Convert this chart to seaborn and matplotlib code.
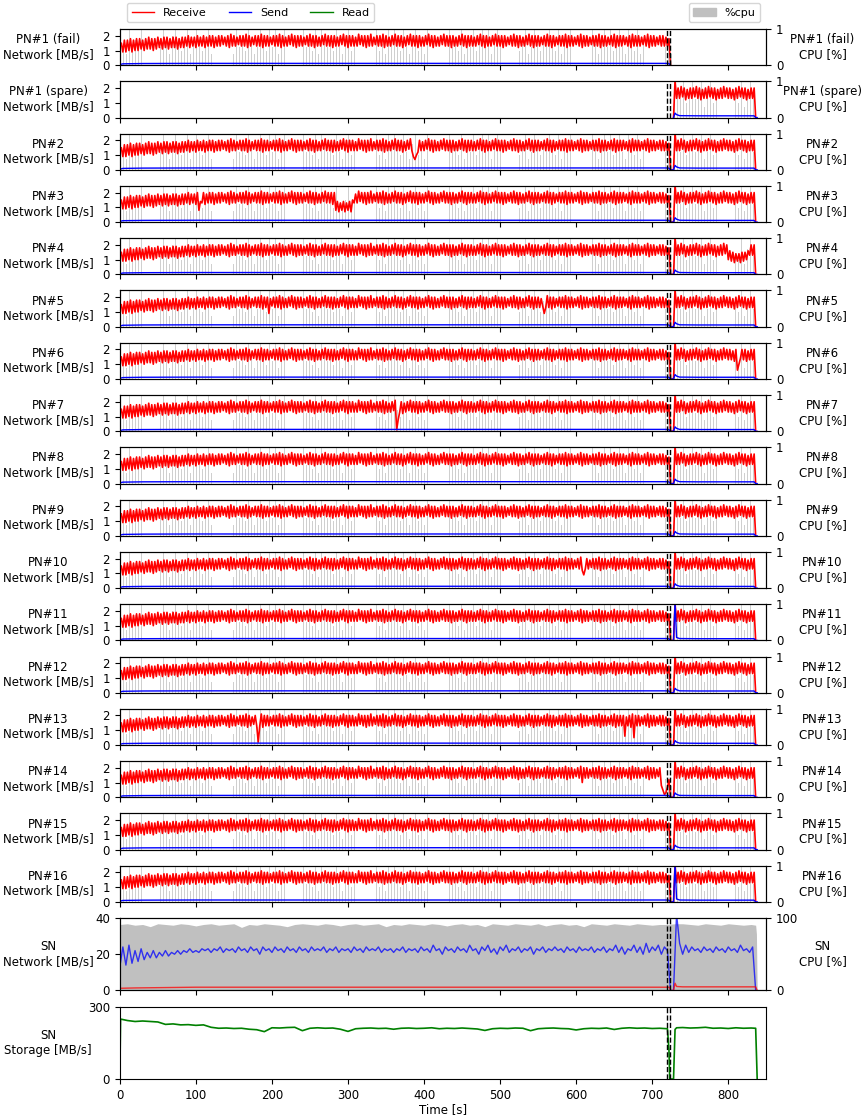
import numpy as np
import seaborn as sns
import matplotlib.pyplot as plt
from matplotlib.lines import Line2D
from matplotlib.patches import Patch

panels = ["PN#1 (fail)", "PN#1 (spare)"] + ["PN#%d" % i for i in range(2, 17)]
fail_lines = [720, 723]

# PN receive rate in tenths of MB/s: troughs at t = 0, 4, 8 ... and peaks at t = 2, 6, 10 ...
rx_trough = [
    12, 9, 9, 10, 9, 10, 10, 11, 10, 11,
    11, 10, 11, 12, 11, 12, 11, 12, 12, 11,
    12, 12, 13, 12, 13, 12, 13, 13, 12, 13,
    13, 12, 13, 13, 14, 13, 12, 13, 13, 14,
    13, 13, 12, 13, 14, 13, 13, 12, 13, 13,
    14, 13, 13, 12, 13, 13, 14, 13, 12, 13,
    13, 14, 13, 13, 12, 13, 13, 14, 13, 13,
    12, 13, 13, 14, 13, 12, 13, 13, 13, 14,
    13, 12, 13, 13, 14, 13, 13, 12, 13, 13,
    14, 13, 13, 12, 13, 14, 13, 13, 12, 13,
    13, 14, 13, 12, 13, 13, 14, 13, 13, 12,
    13, 13, 14, 13, 12, 13, 13, 13, 14, 13,
    12, 13, 13, 14, 13, 13, 12, 13, 14, 13,
    13, 12, 13, 13, 14, 13, 12, 13, 13, 14,
    13, 13, 12, 13, 14, 13, 13, 12, 13, 13,
    14, 13, 12, 13, 13, 14, 13, 13, 12, 13,
    13, 14, 13, 12, 13, 13, 14, 13, 12, 13,
    13, 13, 14, 13, 12, 13, 13, 14, 13, 13,
    13, 0, 0, 13, 13, 14, 12, 13, 13, 14,
    13, 12, 13, 13, 14, 13, 12, 13, 13, 14,
    13, 13, 12, 13, 14, 13, 12, 13, 13, 0,
]
rx_peak = [
    15, 17, 17, 18, 17, 18, 18, 17, 18, 19,
    18, 18, 19, 18, 19, 19, 18, 19, 19, 18,
    19, 19, 20, 19, 19, 20, 19, 20, 19, 20,
    20, 19, 20, 20, 19, 20, 21, 20, 19, 20,
    20, 21, 20, 19, 20, 20, 21, 20, 20, 19,
    20, 20, 21, 20, 19, 20, 21, 20, 20, 20,
    19, 20, 21, 20, 20, 19, 20, 21, 20, 20,
    20, 19, 20, 21, 20, 20, 20, 19, 21, 20,
    20, 20, 21, 19, 20, 20, 21, 20, 19, 20,
    21, 20, 20, 19, 20, 21, 20, 20, 20, 19,
    20, 21, 20, 20, 19, 20, 21, 20, 20, 20,
    19, 20, 21, 20, 20, 20, 19, 20, 21, 20,
    20, 19, 20, 21, 20, 20, 20, 19, 20, 21,
    20, 20, 19, 20, 21, 20, 20, 20, 19, 20,
    21, 20, 20, 19, 20, 20, 21, 20, 20, 19,
    20, 21, 20, 20, 19, 20, 20, 21, 20, 20,
    19, 20, 21, 20, 20, 20, 19, 20, 21, 20,
    20, 19, 20, 21, 20, 20, 19, 20, 20, 19,
    18, 0, 25, 20, 21, 20, 19, 20, 20, 21,
    20, 19, 20, 21, 20, 20, 19, 20, 21, 20,
    20, 19, 20, 21, 20, 20, 19, 20, 20,
]

# dips seen on single nodes: (time [s], tenths of MB/s)
rx_dips = {
    "PN#2": [(386, 9), (388, 7), (390, 10)],
    "PN#3": [(104, 8), (106, 14), (284, 8), (286, 14), (288, 7), (290, 13), (292, 8),
             (294, 14), (296, 7), (298, 13), (300, 8), (302, 14), (304, 7), (306, 15)],
    "PN#4": [(800, 10), (802, 16), (804, 9), (806, 15), (808, 8), (810, 14), (812, 9),
             (814, 14), (816, 8), (818, 15), (820, 9), (822, 15), (824, 10), (826, 16)],
    "PN#5": [(196, 9), (558, 9)],
    "PN#6": [(812, 6), (814, 10)],
    "PN#7": [(364, 1), (366, 8)],
    "PN#10": [(610, 9)],
    "PN#13": [(182, 2), (664, 6), (676, 5)],
    "PN#14": [(608, 10), (712, 8), (714, 5), (716, 2), (718, 3), (720, 7), (722, 12)],
}

send_t = [0, 4, 30, 100, 300, 500, 718, 722, 724, 728, 730, 732, 736, 760, 834, 836, 838]
send_v = [0.05, 0.1, 0.12, 0.13, 0.13, 0.13, 0.13, 0.12, 0.0, 0.0, 0.3, 0.2, 0.13, 0.12,
          0.12, 0.0, 0.0]
send_spike = {"PN#11": 2.6, "PN#16": 2.6}

# PN cpu in tenths, one reading every 4 s starting at t = 1
pn_cpu = [
    10, 6, 3, 10, 5, 7, 4, 10, 6, 3,
    7, 10, 4, 5, 10, 6, 3, 8, 10, 5,
    4, 6, 10, 3, 7, 10, 5, 4, 6, 10,
    3, 10, 7, 5, 4, 10, 6, 3, 10, 5,
    6, 4, 10, 7, 3, 5, 10, 6, 4, 10,
    5, 10, 3, 6, 10, 4, 7, 10, 5, 3,
    10, 5, 6, 4, 10, 3, 10, 6, 5, 7,
    4, 10, 5, 3, 6, 10, 4, 7, 10, 5,
    6, 3, 10, 5, 10, 4, 6, 3, 10, 7,
    10, 6, 4, 10, 5, 3, 7, 10, 4, 6,
    3, 10, 6, 5, 4, 10, 3, 6, 10, 5,
    7, 4, 10, 3, 6, 5, 10, 4, 7, 10,
    5, 10, 3, 7, 10, 6, 4, 10, 5, 3,
    10, 4, 6, 10, 3, 5, 10, 6, 4, 7,
    6, 10, 5, 4, 10, 3, 7, 5, 10, 4,
    3, 6, 10, 5, 4, 10, 6, 3, 7, 10,
    5, 10, 4, 6, 10, 5, 3, 10, 6, 4,
    10, 3, 7, 10, 5, 4, 10, 6, 3, 5,
    4, 3, 10, 6, 5, 10, 4, 7, 10, 5,
    6, 10, 3, 5, 10, 4, 6, 10, 5, 3,
    10, 5, 6, 4, 10, 3, 7, 10, 5, 0,
]

# SN send in MB/s, one reading every 4 s
sn_send = [
    13, 24, 14, 25, 15, 22, 16, 23, 17, 21,
    18, 22, 18, 21, 19, 22, 19, 21, 20, 22,
    20, 22, 21, 23, 21, 22, 21, 23, 22, 23,
    21, 23, 22, 24, 21, 23, 22, 23, 21, 24,
    22, 23, 21, 24, 22, 23, 20, 24, 22, 23,
    21, 24, 22, 23, 21, 24, 22, 23, 21, 24,
    22, 23, 21, 24, 22, 23, 22, 24, 21, 23,
    22, 24, 21, 23, 22, 23, 21, 24, 22, 23,
    21, 24, 22, 23, 22, 24, 21, 23, 22, 23,
    21, 23, 22, 24, 21, 23, 22, 23, 21, 24,
    22, 23, 21, 25, 22, 23, 20, 24, 22, 23,
    21, 24, 22, 23, 21, 25, 22, 23, 20, 24,
    22, 25, 21, 23, 20, 24, 22, 25, 21, 23,
    22, 24, 21, 23, 22, 24, 20, 23, 22, 24,
    21, 23, 22, 24, 22, 23, 21, 24, 22, 23,
    21, 24, 22, 23, 22, 24, 21, 23, 22, 24,
    21, 23, 22, 25, 21, 24, 20, 23, 22, 25,
    21, 24, 20, 26, 21, 24, 22, 25, 20, 24,
    22, 0, 0, 42, 26, 20, 25, 21, 24, 22,
    23, 21, 24, 22, 23, 21, 24, 22, 23, 21,
    24, 22, 23, 21, 25, 22, 23, 21, 24, 0,
]

sn_rx_t = [0, 20, 60, 100, 720, 723, 724, 728, 730, 732, 740, 836, 838]
sn_rx_v = [1.2, 1.4, 1.6, 1.8, 1.8, 1.7, 0.0, 0.0, 4.0, 2.2, 2.0, 2.0, 0.0]

sn_cpu_t = list(range(0, 720, 10)) + [720, 730] + list(range(740, 840, 10)) + [836, 837, 838]
sn_cpu_v = [
    91, 92, 90, 91, 88, 92, 91, 90, 92, 91,
    89, 91, 92, 90, 91, 92, 87, 91, 90, 92,
    91, 90, 88, 91, 92, 91, 90, 92, 91, 89,
    91, 92, 90, 91, 92, 88, 91, 90, 92, 91,
    90, 92, 91, 89, 91, 92, 90, 91, 88, 92,
    91, 90, 92, 91, 90, 92, 89, 91, 92, 90,
    91, 88, 92, 91, 90, 92, 91, 90, 92, 91,
    90, 91,
    91, 92,
    92, 91, 90, 92, 91, 90, 92, 91, 90, 91,
    90, 78, 0,
]

storage_t = [0, 1] + list(range(10, 720, 10)) + [720, 722, 723, 728, 730, 732] \
    + list(range(740, 840, 10)) + [836, 838]
storage_v = [
    0, 248,
    242, 238, 240, 238, 236, 226, 228, 224, 225, 222,
    224, 214, 210, 211, 209, 210, 206, 204, 196, 212,
    211, 213, 214, 200, 210, 212, 210, 211, 206, 197,
    208, 210, 211, 209, 210, 206, 210, 211, 209, 210,
    212, 208, 210, 209, 211, 209, 207, 201, 208, 210,
    209, 211, 210, 200, 208, 210, 211, 209, 208, 203,
    208, 210, 209, 211, 205, 210, 212, 210, 211, 209,
    210,
    208, 120, 0, 0, 205, 212,
    213, 211, 212, 214, 210, 211, 209, 212, 210, 211,
    210, 0,
]

plt.rcParams["font.size"] = 8.5

fig, axes = plt.subplots(
    19, 1, figsize=(8.62, 11.17), sharex=True,
    gridspec_kw=dict(height_ratios=[1] * 17 + [2, 2], hspace=0.4,
                     left=0.139, right=0.889, top=0.974, bottom=0.034))

rx_t = np.arange(0, 838, 2)
base = np.empty(len(rx_t))
base[0::2] = rx_trough
base[1::2] = rx_peak
base = base / 10
cpu_t = np.arange(1, 840, 4)
cpu = np.array(pn_cpu) / 10
s_t = np.array(send_t)

for ax, name in zip(axes[:17], panels):
    rx = base.copy()
    for t, v in rx_dips.get(name, []):
        rx[t // 2] = v / 10
    sv = np.array(send_v)
    if name in send_spike:
        sv[send_t.index(730)] = send_spike[name]

    if name == "PN#1 (fail)":
        kr, ks, kc = rx_t <= 724, s_t <= 724, cpu_t <= 726
    elif name == "PN#1 (spare)":
        kr, ks, kc = rx_t >= 728, s_t >= 728, cpu_t >= 729
    else:
        kr, ks, kc = rx_t >= 0, s_t >= 0, cpu_t >= 0

    cax = ax.twinx()
    cax.bar(cpu_t[kc], cpu[kc], width=1.0, color="silver", alpha=0.75, linewidth=0)
    ax.set_zorder(cax.get_zorder() + 1)
    ax.patch.set_visible(False)

    sns.lineplot(x=rx_t[kr], y=rx[kr], ax=ax, color="red", lw=1.2, estimator=None, sort=False)
    sns.lineplot(x=s_t[ks], y=sv[ks], ax=ax, color="blue", lw=1, estimator=None, sort=False)
    for x in fail_lines:
        ax.axvline(x, color="black", ls="--", lw=1)

    ax.set_ylim(0, 2.45)
    ax.set_yticks([0, 1, 2])
    cax.set_ylim(0, 1)
    cax.set_yticks([0, 1])
    ax.set_ylabel(name + "\nNetwork [MB/s]", rotation=0, ha="center", va="center")
    ax.yaxis.set_label_coords(-0.111, 0.5)
    cax.set_ylabel(name + "\nCPU [%]", rotation=0, ha="center", va="center")
    cax.yaxis.set_label_coords(1.087, 0.5)

# SN network + cpu
ax = axes[17]
cax = ax.twinx()
cax.fill_between(sn_cpu_t, 0, sn_cpu_v, color="silver", lw=0)
ax.set_zorder(cax.get_zorder() + 1)
ax.patch.set_visible(False)
sns.lineplot(x=np.arange(0, 840, 4), y=sn_send, ax=ax, color="blue", lw=1, alpha=0.75,
             estimator=None, sort=False)
sns.lineplot(x=sn_rx_t, y=sn_rx_v, ax=ax, color="red", lw=1, alpha=0.75,
             estimator=None, sort=False)
for x in fail_lines:
    ax.axvline(x, color="black", ls="--", lw=1)
ax.set_ylim(0, 40)
ax.set_yticks([0, 20, 40])
cax.set_ylim(0, 100)
cax.set_yticks([0, 100])
ax.set_ylabel("SN\nNetwork [MB/s]", rotation=0, ha="center", va="center")
ax.yaxis.set_label_coords(-0.111, 0.5)
cax.set_ylabel("SN\nCPU [%]", rotation=0, ha="center", va="center")
cax.yaxis.set_label_coords(1.087, 0.5)

# SN storage
ax = axes[18]
sns.lineplot(x=storage_t, y=storage_v, ax=ax, color="green", lw=1.2, estimator=None, sort=False)
for x in fail_lines:
    ax.axvline(x, color="black", ls="--", lw=1)
ax.set_ylim(0, 300)
ax.set_yticks([0, 300])
ax.set_ylabel("SN\nStorage [MB/s]", rotation=0, ha="center", va="center")
ax.yaxis.set_label_coords(-0.111, 0.5)

ax.set_xlim(0, 850)
ax.set_xticks(range(0, 801, 100))
ax.set_xlabel("Time [s]", labelpad=1)

handles = [Line2D([], [], color="red", lw=1, label="Receive"),
           Line2D([], [], color="blue", lw=1, label="Send"),
           Line2D([], [], color="green", lw=1, label="Read")]
fig.legend(handles=handles, loc="upper left", bbox_to_anchor=(125 / 862, 1 - 1 / 1117),
           ncol=3, fontsize=8, borderaxespad=0.2)
fig.legend(handles=[Patch(color="silver", label="%cpu")], loc="upper right",
           bbox_to_anchor=(762 / 862, 1 - 1 / 1117), fontsize=8, borderaxespad=0.2)

plt.savefig("out.png", dpi=100)
